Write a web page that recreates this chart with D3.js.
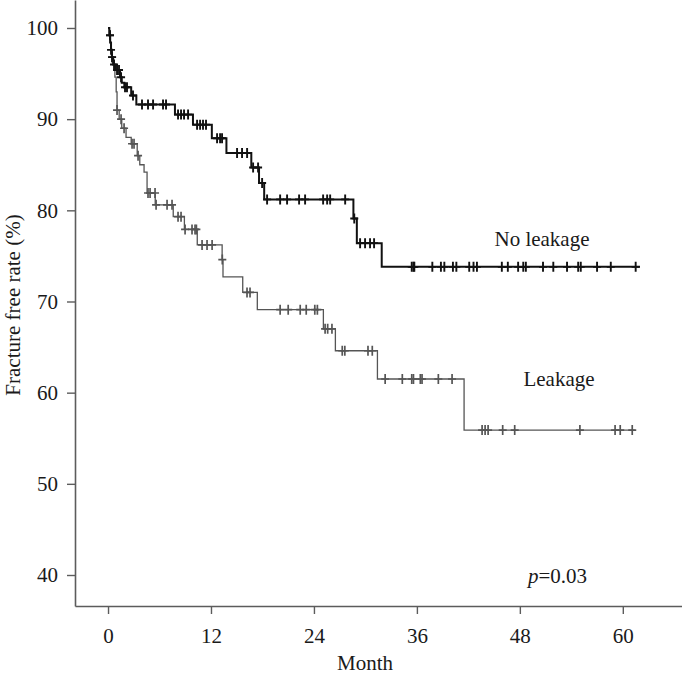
<!DOCTYPE html>
<html>
<head>
<meta charset="UTF-8">
<script src="https://d3js.org/d3.v7.min.js"></script>
<style>
  body{margin:0;background:#fff;}
  svg text{font-family:"Liberation Serif","Times New Roman",serif;fill:#1a1a1a;}
</style>
</head>
<body>
<div id="chart"></div>
<script>
// ticks
var xTicks=[0,12,24,36,48,60]
var yTicks=[40,50,60,70,80,90,100]

// No leakage: [month of drop, new rate]
var noLeakSteps=[[0,100],[0.15,99.2],[0.25,98.4],[0.35,97.6],[0.45,96.8],[0.6,96.0],[0.9,95.4],[1.4,94.6],[1.6,94.0],[1.9,93.5],
  [2.7,92.6],[3.3,91.6],[7.8,90.5],[9.9,89.4],[12.1,87.9],[13.8,86.3],[16.7,84.7],[17.6,83.0],[18.2,81.2],
  [28.6,79.1],[29.0,76.4],[31.9,73.8]]
var noLeakEnd=62.0
var noLeakCensor=[0.23,0.35,0.47,0.70,1.05,1.28,1.52,1.98,2.21,2.91,3.96,4.66,5.25,6.41,6.76,8.16,8.51,8.86,9.33,
  10.38,10.73,11.07,11.42,12.71,13.06,13.29,15.04,15.62,16.21,16.91,17.49,17.96,18.54,20.06,20.87,22.27,22.97,
  25.07,25.54,25.89,27.64,28.7,29.38,29.96,30.54,31.01,35.4,35.6,35.7,37.8,38.8,39.2,40.2,40.6,42.1,42.6,43.0,
  45.9,46.6,47.8,48.4,48.7,50.7,51.9,53.5,54.8,55.1,57.0,58.6,61.5]

// Leakage
var leakSteps=[[0,100],[0.15,99.2],[0.25,98.4],[0.35,97.6],[0.45,96.8],[0.6,96.0],[0.8,94.6],[0.95,93.0],[1.05,91.0],
  [1.3,90.0],[1.6,89.0],[2.1,88.0],[2.7,87.3],[3.4,86.0],[3.7,85.0],[4.2,84.2],[4.55,81.9],[5.5,80.6],[7.6,79.3],
  [8.9,77.9],[10.4,76.2],[13.3,74.6],[13.4,72.7],[15.7,71.0],[17.4,69.1],[25.1,67.0],[26.5,64.6],[31.4,61.5],[41.5,55.9]]
var leakEnd=61.4
var leakCensor=[0.23,0.47,1.05,1.52,1.87,2.8,3.03,3.5,4.66,4.9,5.48,5.6,6.88,7.46,8.16,8.51,8.98,9.79,10.14,10.3,
  10.96,11.54,12.13,13.32,16.2,16.55,20.06,21.0,22.4,23.1,24.1,24.4,25.3,25.6,26.1,27.3,27.6,30.3,30.8,32.3,34.3,
  35.4,35.6,36.4,36.6,38.5,40.1,43.6,43.95,44.3,46.0,47.4,55.0,59.1,59.7,61.1]

var width=682,height=678
var serif='"Liberation Serif","Times New Roman",serif'
var svg=d3.select('#chart').append('svg').attr('width',width).attr('height',height)

var x=d3.scaleLinear().domain([-3.85,66.9]).range([75,682])
var y=d3.scaleLinear().domain([36.6,103.07]).range([606,0])

// axes
var xAxis=d3.axisBottom(x).tickValues(xTicks).tickSize(8).tickPadding(14).tickSizeOuter(0)
var yAxis=d3.axisLeft(y).tickValues(yTicks).tickSize(8).tickPadding(9).tickSizeOuter(0)
var gx=svg.append('g').attr('transform','translate(0,606)').call(xAxis)
var gy=svg.append('g').attr('transform','translate(75,0)').call(yAxis)
;[gx,gy].forEach(function(g){
  g.attr('font-family',serif)
  g.select('.domain').attr('stroke','#5c5c5c').attr('stroke-width',1.6)
  g.selectAll('.tick line').attr('stroke','#5c5c5c').attr('stroke-width',1.4)
  g.selectAll('.tick text').attr('font-size',21).attr('fill','#1a1a1a')
})

function valueAt(steps,t){
  var v=steps[0][1]
  steps.forEach(function(s){ if(s[0]<=t) v=s[1] })
  return v
}

function drawCurve(steps,end,censor,color,w,cw){
  var pts=steps.concat([[end,steps[steps.length-1][1]]])
  var line=d3.line().x(function(d){return x(d[0])}).y(function(d){return y(d[1])}).curve(d3.curveStepAfter)
  svg.append('path').attr('d',line(pts)).attr('fill','none').attr('stroke',color).attr('stroke-width',w)
  svg.append('g').selectAll('path').data(censor).join('path')
    .attr('d',function(t){
      var cx=x(t),cy=y(valueAt(steps,t))
      return 'M'+(cx-4)+','+cy+'H'+(cx+4)+'M'+cx+','+(cy-5)+'V'+(cy+5)
    })
    .attr('stroke',color).attr('stroke-width',cw).attr('fill','none')
}

drawCurve(leakSteps,leakEnd,leakCensor,'#555',1.3,1.7)
drawCurve(noLeakSteps,noLeakEnd,noLeakCensor,'#111',2,1.9)

// labels
function label(xp,yp,txt){
  return svg.append('text').attr('x',xp).attr('y',yp).attr('text-anchor','middle')
    .attr('font-size',21).attr('font-family',serif).text(txt)
}
label(542,246,'No leakage')
label(559,386,'Leakage')
label(365,670,'Month')
var p=svg.append('text').attr('x',528).attr('y',583).attr('font-size',21).attr('font-family',serif)
p.append('tspan').attr('font-style','italic').text('p')
p.append('tspan').text('=0.03')
svg.append('text').attr('transform','translate(20,305) rotate(-90)').attr('text-anchor','middle')
  .attr('font-size',21).attr('font-family',serif).text('Fracture free rate (%)')
</script>
</body>
</html>
